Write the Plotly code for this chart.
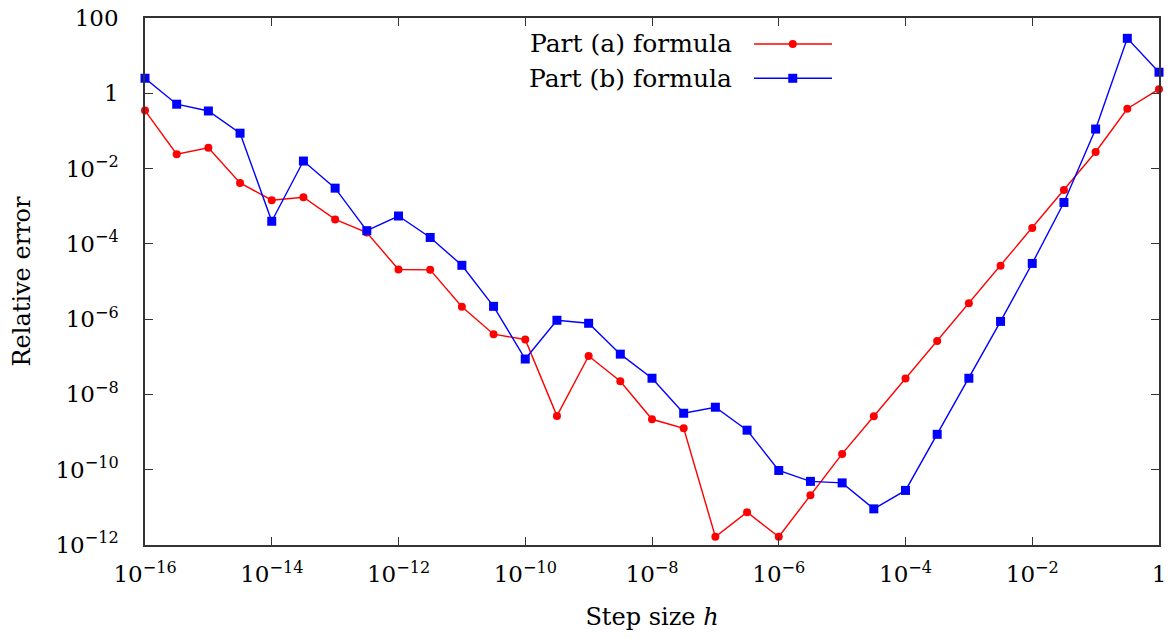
import plotly.graph_objects as go

# step sizes: 10^-16 ... 10^0 in half-decade steps
log_h = [-16 + 0.5 * k for k in range(33)]
h = [10 ** v for v in log_h]

log_err_a = [-0.46, -1.62, -1.45, -2.38, -2.84, -2.76, -3.35, -3.70, -4.68, -4.69,
             -5.67, -6.40, -6.54, -8.57, -6.98, -7.65, -8.66, -8.90, -11.78, -11.13,
             -11.78, -10.68, -9.58, -8.58, -7.58, -6.58, -5.58, -4.58, -3.58, -2.57,
             -1.56, -0.41, 0.11]
log_err_b = [0.40, -0.29, -0.47, -1.06, -3.40, -1.80, -2.52, -3.65, -3.26, -3.83,
             -4.57, -5.66, -7.06, -6.03, -6.11, -6.93, -7.57, -8.50, -8.34, -8.95,
             -10.02, -10.31, -10.35, -11.04, -10.55, -9.06, -7.57, -6.06, -4.52, -2.90,
             -0.95, 1.46, 0.56]
err_a = [10 ** v for v in log_err_a]
err_b = [10 ** v for v in log_err_b]

x_tickvals = [10 ** e for e in range(-16, 1, 2)]
x_ticktext = ["10<sup>−16</sup>", "10<sup>−14</sup>", "10<sup>−12</sup>", "10<sup>−10</sup>",
              "10<sup>−8</sup>", "10<sup>−6</sup>", "10<sup>−4</sup>", "10<sup>−2</sup>", "1"]
y_tickvals = [10 ** e for e in range(-12, 3, 2)]
y_ticktext = ["10<sup>−12</sup>", "10<sup>−10</sup>", "10<sup>−8</sup>", "10<sup>−6</sup>",
              "10<sup>−4</sup>", "10<sup>−2</sup>", "1", "100"]

FONT = "DejaVu Serif"
RED = "#ff0000"
BLUE = "#0000ff"
AXC = "#333333"

fig = go.Figure()
fig.add_trace(go.Scatter(x=h, y=err_a, mode="lines+markers", name="Part (a) formula",
                         line=dict(color=RED, width=1.4),
                         marker=dict(symbol="circle", size=8, color=RED), cliponaxis=False))
fig.add_trace(go.Scatter(x=h, y=err_b, mode="lines+markers", name="Part (b) formula",
                         line=dict(color=BLUE, width=1.4),
                         marker=dict(symbol="square", size=9, color=BLUE), cliponaxis=False))

axis_common = dict(showline=True, linecolor=AXC, linewidth=1.5, mirror="allticks",
                   ticks="inside", ticklen=8, tickwidth=1.2, tickcolor=AXC,
                   showgrid=False, zeroline=False, automargin=False,
                   tickfont=dict(family=FONT, size=23, color="black"))

fig.update_xaxes(type="log", range=[-16, 0], tickvals=x_tickvals, ticktext=x_ticktext,
                 ticklabelstandoff=8,
                 title=dict(text="Step size <i>h</i>", font=dict(family=FONT, size=24, color="black"),
                            standoff=22),
                 **axis_common)
fig.update_yaxes(type="log", range=[-12, 2], tickvals=y_tickvals, ticktext=y_ticktext,
                 ticklabelstandoff=20,
                 title=dict(text="Relative error", font=dict(family=FONT, size=24, color="black"),
                            standoff=18),
                 **axis_common)

# gnuplot-style legend: text on the left, sample on the right
legend_rows = [("Part (a) formula", RED, "circle", 0.9507),
               ("Part (b) formula", BLUE, "square", 0.8856)]
x_text_end, x_l0, x_l1, x_mk = 0.5809, 0.6006, 0.6775, 0.6388
for label, col, sym, yy in legend_rows:
    fig.add_annotation(x=x_text_end, y=yy, xref="paper", yref="paper", text=label,
                       showarrow=False, xanchor="right", yanchor="middle",
                       font=dict(family=FONT, size=25, color="black"))
    fig.add_shape(type="line", xref="paper", yref="paper", x0=x_l0, x1=x_l1, y0=yy, y1=yy,
                  line=dict(color=col, width=1.4))
    half = 4 if sym == "circle" else 4.5
    fig.add_shape(type="circle" if sym == "circle" else "rect", xref="paper", yref="paper",
                  xsizemode="pixel", ysizemode="pixel", xanchor=x_mk, yanchor=yy,
                  x0=-half, x1=half, y0=-half, y1=half,
                  fillcolor=col, line=dict(color=col, width=0))

fig.update_layout(width=1169, height=639, showlegend=False,
                  plot_bgcolor="white", paper_bgcolor="white",
                  margin=dict(l=145, r=10, t=18, b=94),
                  font=dict(family=FONT, size=22, color="black"))

fig.write_html("out.html", config={"displayModeBar": False},
               post_script="document.body.style.margin='0';document.body.style.overflow='hidden';")
